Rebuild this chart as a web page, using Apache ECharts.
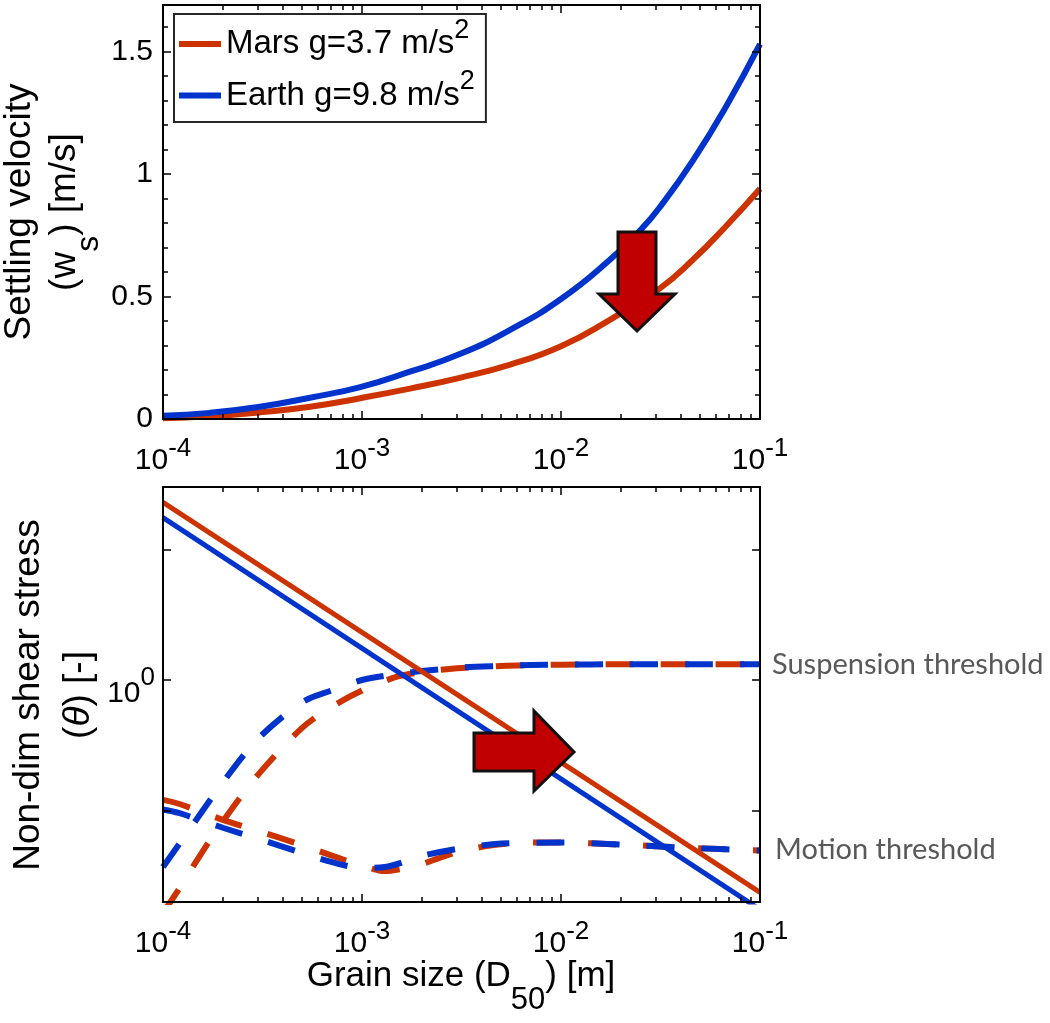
<!DOCTYPE html>
<html>
<head>
<meta charset="utf-8">
<script src="https://cdn.jsdelivr.net/npm/echarts@6/dist/echarts.min.js"></script>
<style>
  html, body { margin: 0; padding: 0; background: #ffffff; }
  #chart { width: 1050px; height: 1023px; }
</style>
</head>
<body>
<div id="chart"></div>
<script>
// ---- Settling velocity (m/s) against grain size D50 (m) ----
const grainSizeMars = [1e-4, 1.72e-4, 3.07e-4, 5.48e-4, 9.8e-4, 1.74e-3, 3.1e-3, 5.55e-3, 1e-2, 1.76e-2, 3.14e-2, 4.6e-2, 6.8e-2, 1e-1];
const wsMars        = [0.003, 0.011, 0.027, 0.050, 0.085, 0.124, 0.168, 0.222, 0.297, 0.405, 0.533, 0.65, 0.79, 0.94];
const grainSizeEarth = [1e-4, 1.72e-4, 3.07e-4, 5.48e-4, 9.8e-4, 1.74e-3, 3.1e-3, 5.55e-3, 1e-2, 1.76e-2, 2.5e-2, 3.14e-2, 4.6e-2, 6.8e-2, 1e-1];
const wsEarth        = [0.013, 0.025, 0.050, 0.087, 0.130, 0.193, 0.265, 0.364, 0.49, 0.65, 0.77, 0.865, 1.055, 1.28, 1.53];

// ---- Non-dimensional shear stress (Shields number) of the flow ----
const thetaGrain = [1e-4, 1e-1];
const thetaMars  = [22.9, 0.0237];
const thetaEarth = [17.5, 0.0175];

// ---- Suspension threshold ----
const suspGrainMars = [1e-4, 1.2e-4, 1.5e-4, 2e-4, 3e-4, 5e-4, 7e-4, 1e-3, 1.5e-3, 2e-3, 3e-3, 5e-3, 7e-3, 1e-2, 2e-2, 5e-2, 1e-1];
const suspMars      = [0.0165, 0.025, 0.043, 0.083, 0.188, 0.43, 0.62, 0.83, 1.06, 1.15, 1.23, 1.28, 1.30, 1.31, 1.32, 1.32, 1.32];
const suspGrainEarth = [1e-4, 1.5e-4, 2e-4, 3e-4, 5e-4, 7e-4, 1e-3, 1.5e-3, 2e-3, 3e-3, 5e-3, 7e-3, 1e-2, 2e-2, 5e-2, 1e-1];
const suspEarth      = [0.037, 0.089, 0.165, 0.355, 0.675, 0.83, 1.0, 1.11, 1.17, 1.24, 1.28, 1.30, 1.31, 1.32, 1.32, 1.32];

// ---- Motion threshold (critical Shields number) ----
const motionGrainMars = [1e-4, 1.2e-4, 2e-4, 3e-4, 5e-4, 7e-4, 1e-3, 1.3e-3, 1.6e-3, 2e-3, 2.4e-3, 3e-3, 4.4e-3, 7e-3, 1e-2, 2e-2, 5e-2, 1e-1];
const motionMars      = [0.121, 0.113, 0.085, 0.070, 0.0545, 0.0455, 0.038, 0.0345, 0.036, 0.039, 0.043, 0.048, 0.054, 0.057, 0.057, 0.055, 0.0515, 0.0495];
const motionGrainEarth = [1e-4, 1.2e-4, 2e-4, 3e-4, 5e-4, 7e-4, 1e-3, 1.3e-3, 2e-3, 3e-3, 5e-3, 1e-2, 2e-2, 5e-2, 1e-1];
const motionEarth      = [0.102, 0.096, 0.074, 0.061, 0.0475, 0.0405, 0.0365, 0.037, 0.045, 0.051, 0.056, 0.057, 0.055, 0.0515, 0.0495];

// ---- Ticks and labels ----
const xTickValues = [1e-4, 1e-3, 1e-2, 1e-1];
const xMinorValues = [];
[-4, -3, -2].forEach(e => { for (let k = 2; k <= 9; k++) xMinorValues.push(k * Math.pow(10, e)); });
const wsTickValues = [0, 0.5, 1, 1.5];
const wsMinorValues = [0.1, 0.2, 0.3, 0.4, 0.6, 0.7, 0.8, 0.9, 1.1, 1.2, 1.3, 1.4, 1.6];
const thetaTickValues = [0.1, 1, 10];
const thetaLabelValues = [1];

const seriesNames = ['Mars', 'Earth'];
const legendLabels = ['Mars g=3.7 m/s', 'Earth g=9.8 m/s'];
const legendSup = '2';

const MARS = '#CC3300';
const EARTH = '#0033CC';
const FONT = "'Liberation Sans', Arial, Helvetica, sans-serif";
const NOTE_FONT = "Lato, 'Open Sans', sans-serif";

const zip = (xs, ys) => xs.map((x, i) => [x, ys[i]]);

const axisLineStyle = { color: '#000', width: 2 };
const tickStyle = { color: '#000', width: 1.5 };
const MAJOR = 8, MINOR = 5;

const supRich = {
  b: { fontSize: 30, fontFamily: FONT, color: '#000', lineHeight: 50 },
  s: { fontSize: 26, fontFamily: FONT, color: '#000', lineHeight: 50, verticalAlign: 'top' }
};

function logX(gridIndex, position, minor, withLabels) {
  return {
    type: 'log', logBase: 10, min: 1e-4, max: 1e-1, gridIndex, position, z: 10,
    axisLine: { show: !minor, onZero: false, lineStyle: axisLineStyle },
    axisTick: { show: true, inside: true, length: minor ? MINOR : MAJOR, lineStyle: tickStyle,
                customValues: minor ? xMinorValues : xTickValues },
    axisLabel: withLabels ? {
      show: true, customValues: xTickValues, margin: 17,
      formatter: v => '{b|10}{s|' + Math.round(Math.log10(v)) + '}',
      rich: supRich
    } : { show: false },
    splitLine: { show: false }, minorTick: { show: false }, minorSplitLine: { show: false }
  };
}

function wsY(position, minor, withLabels) {
  return {
    type: 'value', min: 0, max: 1.69, gridIndex: 0, position, z: 10,
    axisLine: { show: !minor, onZero: false, lineStyle: axisLineStyle },
    axisTick: { show: true, inside: true, length: minor ? MINOR : MAJOR, lineStyle: tickStyle,
                customValues: minor ? wsMinorValues : wsTickValues },
    axisLabel: withLabels ? {
      show: true, customValues: wsTickValues, margin: 10,
      fontSize: 30, fontFamily: FONT, color: '#000', formatter: v => String(v)
    } : { show: false },
    splitLine: { show: false }
  };
}

function thetaY(position, withLabels) {
  return {
    type: 'log', logBase: 10, min: 0.02, max: 30, gridIndex: 1, position, z: 10,
    axisLine: { show: true, onZero: false, lineStyle: axisLineStyle },
    axisTick: { show: true, inside: true, length: MAJOR, lineStyle: tickStyle, customValues: thetaTickValues },
    axisLabel: withLabels ? {
      show: true, customValues: thetaLabelValues, margin: 8, padding: [28, 0, 0, 0],
      formatter: v => '{b|10}{s|' + Math.round(Math.log10(v)) + '}',
      rich: {
        b: { fontSize: 30, fontFamily: FONT, color: '#000', lineHeight: 58 },
        s: { fontSize: 26, fontFamily: FONT, color: '#000', lineHeight: 58, verticalAlign: 'top' }
      }
    } : { show: false },
    splitLine: { show: false }, minorTick: { show: false }, minorSplitLine: { show: false }
  };
}

function lineSeries(name, xi, yi, data, color, width, dashed, smooth) {
  return {
    type: 'line', name, xAxisIndex: xi, yAxisIndex: yi, data,
    color, showSymbol: false, symbol: 'none', smooth, clip: true, silent: true,
    lineStyle: { color, width, type: dashed ? [28, 27] : 'solid', cap: 'butt' },
    itemStyle: { color }
  };
}

// Rotated two-line y-axis titles and the x-axis title
function titleText(x, y, rich, text, rotate) {
  return {
    type: 'text', x, y, rotation: rotate ? Math.PI / 2 : 0, z: 100, silent: true,
    style: { text, align: 'center', verticalAlign: 'middle', rich }
  };
}
const titleRich = {
  t:  { fontSize: 37, fontFamily: FONT, fill: '#000', lineHeight: 44 },
  ti: { fontSize: 37, fontFamily: FONT, fill: '#000', lineHeight: 44, fontStyle: 'italic' },
  sub: { fontSize: 32, fontFamily: FONT, fill: '#000', lineHeight: 44, verticalAlign: 'top', padding: [30, 0, 0, 0] }
};
const xTitleRich = {
  t:  { fontSize: 35, fontFamily: FONT, fill: '#000', lineHeight: 42 },
  sub: { fontSize: 31, fontFamily: FONT, fill: '#000', lineHeight: 42, verticalAlign: 'top', padding: [30, 0, 0, 0] }
};

const arrowStyle = { fill: '#C00000', stroke: '#111111', lineWidth: 3, lineJoin: 'miter' };

const option = {
  backgroundColor: '#ffffff',
  animation: false,
  grid: [
    { left: 163, top: 5, width: 597, height: 414, containLabel: false, show: false },
    { left: 163, top: 487, width: 597, height: 415, containLabel: false, show: false }
  ],
  xAxis: [
    logX(0, 'bottom', false, true), logX(0, 'bottom', true, false),
    logX(0, 'top', false, false), logX(0, 'top', true, false),
    logX(1, 'bottom', false, true), logX(1, 'bottom', true, false),
    logX(1, 'top', false, false), logX(1, 'top', true, false)
  ],
  yAxis: [
    wsY('left', false, true), wsY('left', true, false),
    wsY('right', false, false), wsY('right', true, false),
    thetaY('left', true), thetaY('right', false)
  ],
  legend: {
    data: seriesNames, orient: 'vertical', left: 174, top: 14,
    padding: [3, 11, 10, 5], itemGap: 8, itemWidth: 42, itemHeight: 6, icon: 'rect',
    borderColor: '#262626', borderWidth: 2, backgroundColor: '#ffffff', borderRadius: 0,
    selectedMode: false,
    formatter: name => '{t|' + legendLabels[seriesNames.indexOf(name)] + '}{s|' + legendSup + '}',
    textStyle: {
      rich: {
        t: { fontSize: 33, fontFamily: FONT, color: '#000', lineHeight: 54 },
        s: { fontSize: 27, fontFamily: FONT, color: '#000', lineHeight: 54, verticalAlign: 'top' }
      }
    }
  },
  series: [
    lineSeries(seriesNames[0], 0, 0, zip(grainSizeMars, wsMars), MARS, 6, false, 0.5),
    lineSeries(seriesNames[1], 0, 0, zip(grainSizeEarth, wsEarth), EARTH, 6, false, 0.5),

    lineSeries('Mars suspension', 4, 4, zip(suspGrainMars, suspMars), MARS, 6, true, 0.3),
    lineSeries('Mars motion', 4, 4, zip(motionGrainMars, motionMars), MARS, 6, true, 0.3),
    lineSeries('Earth suspension', 4, 4, zip(suspGrainEarth, suspEarth), EARTH, 6, true, 0.3),
    lineSeries('Earth motion', 4, 4, zip(motionGrainEarth, motionEarth), EARTH, 6, true, 0.3),
    lineSeries('Mars shear stress', 4, 4, zip(thetaGrain, thetaMars), MARS, 5, false, false),
    lineSeries('Earth shear stress', 4, 4, zip(thetaGrain, thetaEarth), EARTH, 5, false, false)
  ],
  graphic: [
    titleText(20, 212, titleRich, '{t|Settling velocity}', true),
    titleText(65, 212, titleRich, '{t|(w}{sub|s}{t|) [m/s]}', true),
    titleText(29, 695, titleRich, '{t|Non-dim shear stress}', true),
    titleText(79, 695, titleRich, '{t|(}{ti|θ}{t|) [-]}', true),
    titleText(461, 976, xTitleRich, '{t|Grain size (D}{sub|50}{t|) [m]}', false),
    {
      type: 'text', x: 772, y: 665, z: 100, silent: true,
      style: { text: 'Suspension threshold', fontSize: 29, fontFamily: NOTE_FONT, fill: '#595959', align: 'left', verticalAlign: 'middle' }
    },
    {
      type: 'text', x: 775, y: 850, z: 100, silent: true,
      style: { text: 'Motion threshold', fontSize: 29, fontFamily: NOTE_FONT, fill: '#595959', align: 'left', verticalAlign: 'middle' }
    },
    {
      type: 'polygon', z: 100, silent: true,
      shape: { points: [[618, 232], [656, 232], [656, 294], [675, 294], [637, 331], [599, 294], [618, 294]] },
      style: arrowStyle
    },
    {
      type: 'polygon', z: 100, silent: true,
      shape: { points: [[474, 733], [534, 733], [534, 711], [574, 752], [534, 791], [534, 771], [474, 771]] },
      style: arrowStyle
    }
  ]
};

const chart = echarts.init(document.getElementById('chart'), null, { renderer: 'canvas', width: 1050, height: 1023 });
chart.setOption(option);
</script>
</body>
</html>
